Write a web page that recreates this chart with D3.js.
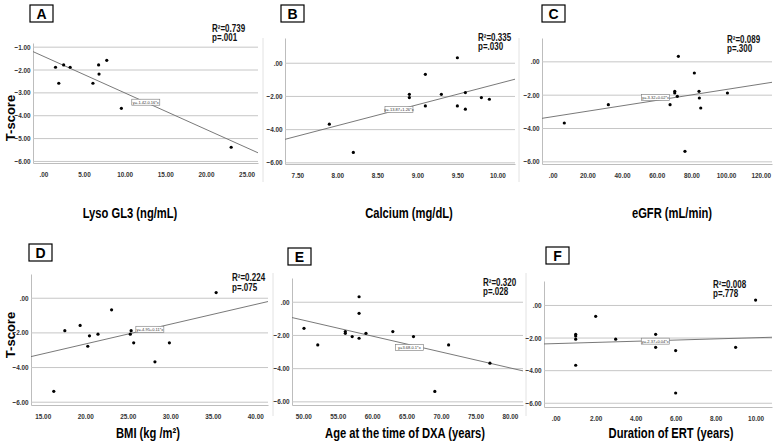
<!DOCTYPE html>
<html>
<head>
<meta charset="utf-8">
<script src="https://cdn.jsdelivr.net/npm/d3@7"></script>
<style>
  body { margin: 0; background: #fff; }
  text { font-family: "Liberation Sans", Arial, sans-serif; }
</style>
</head>
<body>
<svg id="chart" width="774" height="442"></svg>
<script>
// T-score against each variable
const lysoGL3 = [1.5, 1.9, 2.5, 3.3, 6.1, 6.8, 6.85, 7.8, 9.6, 23.1];
const tLyso   = [-1.9, -2.6, -1.8, -1.9, -2.6, -1.8, -2.2, -1.6, -3.7, -5.4];

const calcium  = [7.9, 8.2, 8.9, 8.9, 9.1, 9.1, 9.3, 9.5, 9.5, 9.6, 9.6, 9.8, 9.9];
const tCalcium = [-3.7, -5.4, -1.9, -2.1, -0.7, -2.6, -1.9, 0.3, -2.6, -1.8, -2.8, -2.1, -2.2];

const egfr  = [6.7, 32.1, 67.7, 70.4, 70.4, 71.9, 72.5, 76.3, 81.7, 84.4, 84.6, 85.4, 100.8];
const tEgfr = [-3.7, -2.6, -2.6, -1.8, -1.9, -2.1, 0.3, -5.4, -0.7, -1.8, -2.2, -2.8, -1.9];

const bmi  = [16.3, 17.6, 19.4, 20.3, 20.5, 21.5, 23.1, 25.3, 25.4, 25.7, 28.2, 29.9, 35.4];
const tBmi = [-5.4, -1.9, -1.6, -2.8, -2.2, -2.1, -0.7, -2.1, -1.9, -2.6, -3.7, -2.6, 0.3];

const age  = [50.1, 52.1, 56.1, 56.1, 57.1, 58.1, 58.1, 58.1, 59.1, 63.0, 66.0, 69.1, 71.1, 77.1];
const tAge = [-1.6, -2.6, -1.8, -1.9, -2.1, 0.3, -0.7, -2.2, -1.9, -1.8, -2.1, -5.4, -2.6, -3.7];

const ertYears = [1, 1, 1, 1, 2, 3, 5, 5, 6, 6, 9, 10];
const tErt     = [-1.8, -1.9, -2.1, -3.7, -0.7, -2.1, -1.8, -2.6, -2.8, -5.4, -2.6, 0.3];

// fit lines [intercept, slope] and stats
const fits      = [[-1.42, -0.16], [-13.87, 1.26], [-3.32, 0.0163], [-4.95, 0.114], [3.68, -0.0958], [-2.37, 0.036]];
const fitLabels = ["y=-1.42-0.16*x", "y=-13.87+1.26*x", "y=-3.32+0.02*x", "y=-4.95+0.11*x", "y=3.68-0.1*x", "y=-2.37+0.04*x"];
const fitLabelAt = [[12.6, -3.43], [8.77, -2.82], [59.3, -2.16], [27.6, -1.82], [65.4, -2.76], [4.98, -2.22]];
const rSquared  = ["R²=0.739", "R²=0.335", "R²=0.089", "R²=0.224", "R²=0.320", "R²=0.008"];
const pValues   = ["p=.001", "p=.030", "p=.300", "p=.075", "p=.028", "p=.778"];

const letters = ["A", "B", "C", "D", "E", "F"];
const xTitles = ["Lyso GL3 (ng/mL)", "Calcium (mg/dL)", "eGFR (mL/min)", "BMI (kg /m²)", "Age at the time of DXA (years)", "Duration of ERT (years)"];

const xTicks = [
  [0, 5, 10, 15, 20, 25],
  [7.5, 8, 8.5, 9, 9.5, 10],
  [0, 20, 40, 60, 80, 100, 120],
  [15, 20, 25, 30, 35, 40],
  [50, 55, 60, 65, 70, 75, 80],
  [0, 2, 4, 6, 8, 10]
];
const yTicksA = [-1, -2, -3, -4, -5, -6];
const yTicks  = [0, -2, -4, -6];

const xDomains = [[-1.27, 26.4], [7.346, 10.22], [-6.17, 126.5], [13.62, 41.5], [48.36, 81.9], [-0.585, 10.82]];
const yDomains = [[-6.09, -0.84], [-6.1, 1.49], [-6.16, 1.4], [-6.19, 1.37], [-6.22, 1.43], [-6.26, 1.47]];

const xs = [lysoGL3, calcium, egfr, bmi, age, ertYears];
const ys = [tLyso, tCalcium, tEgfr, tBmi, tAge, tErt];

// layout: plot box [left, top, right, bottom], letter box, stats position, title
const layout = [
  {box: [33, 43, 258, 163],   letter: [30, 5],    stats: [212, 31.5],  title: [130, 218]},
  {box: [285, 38, 515, 164],  letter: [281, 5],   stats: [478, 40.5],  title: [409, 218]},
  {box: [542, 38, 772, 164],  letter: [542, 5],   stats: [727, 42.5],  title: [672, 218]},
  {box: [31, 274, 268, 405],  letter: [29, 244],  stats: [232, 281],   title: [148, 438]},
  {box: [292, 278, 523, 405], letter: [288, 248], stats: [483, 285.5], title: [405, 438]},
  {box: [544, 281, 772, 407], letter: [546, 247], stats: [713, 287.5], title: [671, 438]}
];

const svg = d3.select("#chart");
const fmt = v => d3.format(".2f")(v).replace(/^(-?)0\./, "$1.");
const NARROW = 0.8;   // fake a narrow face by squeezing horizontally

function narrowText(parent, x, y, str, size, anchor) {
  return parent.append("text")
    .attr("transform", `translate(${x},${y}) scale(${NARROW},1)`)
    .attr("text-anchor", anchor || "start")
    .attr("font-size", size)
    .attr("font-weight", "bold")
    .text(str);
}

function styleTicks(sel) {
  sel.selectAll(".tick text")
    .attr("font-size", 8)
    .attr("font-weight", "bold")
    .attr("fill", "#333")
    .attr("transform", `scale(${NARROW},1)`)
    .style("font-family", '"Liberation Sans", Arial, sans-serif');
}

// faint frame separators between panels
[[263, 38, 182], [519, 38, 182], [273, 273, 416], [526, 273, 416]].forEach(s => {
  svg.append("line").attr("x1", s[0]).attr("x2", s[0]).attr("y1", s[1]).attr("y2", s[2])
    .attr("stroke", "#e2e2e2").attr("stroke-width", 1);
});

layout.forEach((L, i) => {
  const [x0, y0, x1, y1] = L.box;
  const x = d3.scaleLinear().domain(xDomains[i]).range([x0, x1]);
  const y = d3.scaleLinear().domain(yDomains[i]).range([y1, y0]);
  const g = svg.append("g");

  // y axis with gridlines
  const yAxis = d3.axisLeft(y)
    .tickValues(i === 0 ? yTicksA : yTicks)
    .tickFormat(fmt)
    .tickSize(-(x1 - x0))
    .tickSizeOuter(0)
    .tickPadding(3);
  const ga = g.append("g").attr("transform", `translate(${x0},0)`).call(yAxis);
  ga.select(".domain").attr("stroke", "#bdbdbd");
  ga.selectAll(".tick line").attr("stroke", "#c6c6c6");
  styleTicks(ga);

  // x axis
  const xAxis = d3.axisBottom(x)
    .tickValues(xTicks[i])
    .tickFormat(fmt)
    .tickSize(0)
    .tickPadding(8);
  const gx = g.append("g").attr("transform", `translate(0,${y1})`).call(xAxis);
  gx.select(".domain").attr("stroke", "#bdbdbd");
  styleTicks(gx);

  // clip for fit line
  const clipId = "clip" + i;
  svg.append("clipPath").attr("id", clipId).append("rect")
    .attr("x", x0).attr("y", y0).attr("width", x1 - x0).attr("height", y1 - y0);

  const [a, b] = fits[i];
  const line = d3.line().x(d => x(d)).y(d => y(a + b * d));
  g.append("path")
    .datum(xDomains[i])
    .attr("d", line)
    .attr("clip-path", `url(#${clipId})`)
    .attr("fill", "none")
    .attr("stroke", "#6a6a6a")
    .attr("stroke-width", 0.9);

  // points
  g.selectAll("circle")
    .data(xs[i].map((v, k) => [v, ys[i][k]]))
    .enter()
    .append("circle")
    .attr("cx", d => x(d[0]))
    .attr("cy", d => y(d[1]))
    .attr("r", 1.6)
    .attr("fill", "#000");

  // fit equation box
  const [lx, ly] = fitLabelAt[i];
  const eq = g.append("g").attr("transform", `translate(${x(lx)},${y(ly)})`);
  eq.append("rect").attr("x", -14).attr("y", -3).attr("width", 28).attr("height", 6)
    .attr("fill", "#fff").attr("stroke", "#777").attr("stroke-width", 0.6);
  eq.append("text").attr("text-anchor", "middle").attr("y", 1.5)
    .attr("font-size", 4).attr("fill", "#333").text(fitLabels[i]);

  // stats
  narrowText(g, L.stats[0], L.stats[1], rSquared[i], 10).attr("fill", "#111");
  narrowText(g, L.stats[0], L.stats[1] + 9.5, pValues[i], 10).attr("fill", "#111");

  // panel letter
  g.append("rect").attr("x", L.letter[0]).attr("y", L.letter[1]).attr("width", 23).attr("height", 17)
    .attr("fill", "#fff").attr("stroke", "#000").attr("stroke-width", 1.2);
  g.append("text")
    .attr("x", L.letter[0] + 11.5).attr("y", L.letter[1] + 13.5)
    .attr("text-anchor", "middle").attr("font-size", 14).attr("font-weight", "bold")
    .text(letters[i]);

  // x title
  narrowText(g, L.title[0], L.title[1], xTitles[i], 14, "middle");
});

// y titles
[[12, 118], [12, 335]].forEach(p => {
  svg.append("text")
    .attr("transform", `translate(${p[0]},${p[1]}) rotate(-90)`)
    .attr("text-anchor", "middle").attr("dominant-baseline", "middle")
    .attr("font-size", 13).attr("font-weight", "bold")
    .text("T-score");
});
</script>
</body>
</html>
